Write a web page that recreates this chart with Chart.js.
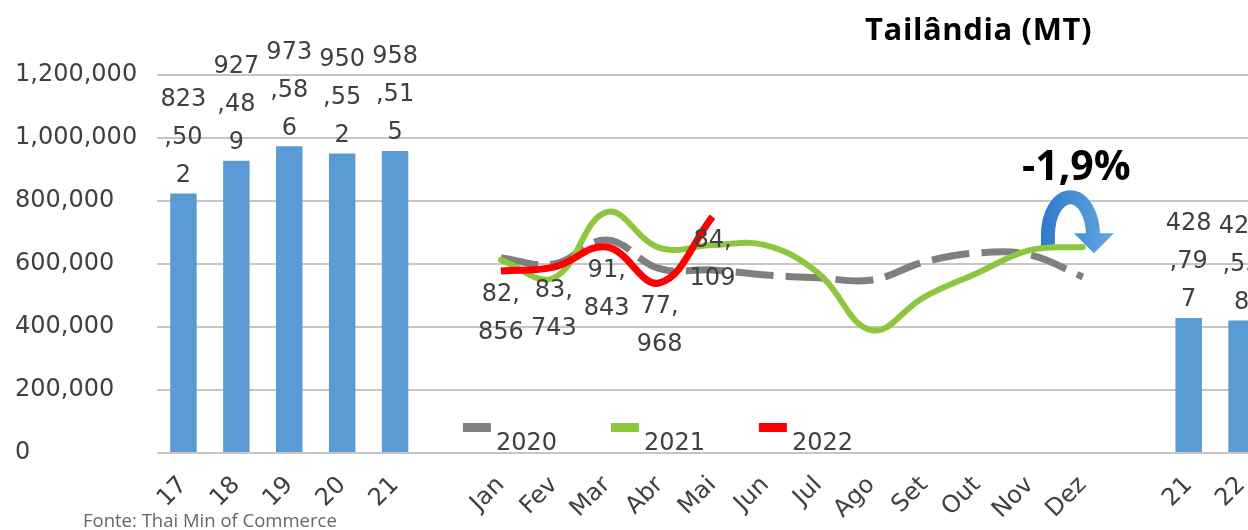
<!DOCTYPE html>
<html>
<head>
<meta charset="utf-8">
<script src="https://cdn.jsdelivr.net/npm/chart.js@4"></script>
<style>
  html, body { margin: 0; padding: 0; background: #fff; overflow: hidden; }
  #wrap { position: relative; width: 1248px; height: 530px; overflow: hidden; }
  #box { position: absolute; left: 0; top: 0; width: 1280px; height: 530px; }
  .txt { position: absolute; line-height: 1; white-space: nowrap; font-family: "Open Sans", sans-serif; }
  #title { left: 865px; top: 13px; font-size: 31px; font-weight: bold; letter-spacing: 0.6px; color: #000; }
  #pct { left: 1022px; top: 144px; font-size: 41px; font-weight: bold; color: #000; }
  #fonte { left: 83px; top: 511px; font-size: 18.5px; color: #666; }
</style>
</head>
<body>
<div id="wrap">
  <div id="box"><canvas id="chart" width="1280" height="530"></canvas></div>
  <div class="txt" id="title">Tailândia (MT)</div>
  <div class="txt" id="pct">-1,9%</div>
  <div class="txt" id="fonte">Fonte: Thai Min of Commerce</div>
</div>
<script>
// annual totals
const yearLabels = ['17', '18', '19', '20', '21'];
const yearTotals = [823502, 927489, 973586, 950552, 958515];
// jan-may totals
const ytdLabels = ['21', '22'];
const ytdTotals = [428797, 420558];
// monthly lines
const months = ['Jan', 'Fev', 'Mar', 'Abr', 'Mai', 'Jun', 'Jul', 'Ago', 'Set', 'Out', 'Nov', 'Dez'];
const m2020 = [619000, 600000, 676000, 585000, 581000, 565000, 556000, 549000, 606000, 635000, 629000, 559000];
const m2021 = [613000, 556000, 765000, 651000, 660000, 660000, 571000, 390000, 495000, 571000, 644000, 654000];
const m2022 = [578000, 590000, 654000, 540000, 750000];
const labels2022 = [82856, 83743, 91843, 77968, 84109];
const yTicks = [0, 200000, 400000, 600000, 800000, 1000000, 1200000];

const FONT = 'DejaVu Sans';
const TXT = '#404040';

const categories = [...yearLabels, '', ...months, '', ...ytdLabels];
const lead = yearLabels.length + 1;
const tail = 1 + ytdLabels.length;
const pad = (arr) => [
  ...Array(lead).fill(null), ...arr,
  ...Array(months.length - arr.length + tail).fill(null)
];
const barData = [...yearTotals, ...Array(months.length + 2).fill(null), ...ytdTotals];

// wrapped value labels like the excel ones
const valueLabels = {
  id: 'valueLabels',
  afterDatasetsDraw(chart) {
    const ctx = chart.ctx;
    ctx.save();
    ctx.font = '24px "' + FONT + '"';
    ctx.fillStyle = TXT;
    ctx.textAlign = 'center';
    ctx.textBaseline = 'middle';

    const bars = chart.getDatasetMeta(0);
    chart.data.datasets[0].data.forEach((v, i) => {
      if (v == null) return;
      const el = bars.data[i];
      const parts = v.toLocaleString('en-US').match(/.{1,3}/g);
      parts.forEach((t, k) => {
        ctx.fillText(t, el.x, el.y - 18 - (parts.length - 1 - k) * 38);
      });
    });

    const red = chart.getDatasetMeta(3);
    labels2022.forEach((v, i) => {
      const el = red.data[lead + i];
      const [a, b] = v.toLocaleString('en-US').split(',');
      ctx.fillText(a + ',', el.x, el.y + 24);
      ctx.fillText(b, el.x, el.y + 62);
    });

    // legend inside the plot
    const base = chart.scales.y.getPixelForValue(0);
    let x = chart.scales.x.getPixelForValue(lead) - 38;
    ctx.textAlign = 'left';
    ctx.textBaseline = 'alphabetic';
    [1, 2, 3].forEach(i => {
      const ds = chart.data.datasets[i];
      ctx.fillStyle = ds.borderColor;
      ctx.fillRect(x, base - 30, 28, 9);
      ctx.fillStyle = TXT;
      ctx.fillText(ds.label, x + 33, base - 3);
      x += 148;
    });
    ctx.restore();
  }
};

// curved arrow next to the 2021 Nov point
const arrow = {
  id: 'arrow',
  beforeDatasetsDraw(chart) {
    const p = chart.getDatasetMeta(2).data[lead + 10];
    if (!p) return;
    const ctx = chart.ctx;
    const lx = p.x + 18, by = p.y - 2;
    const cx = lx + 22.5, cy = by - 13;
    const rx = cx + 22.5;
    const g = ctx.createLinearGradient(lx - 8, 0, rx + 20, 0);
    g.addColorStop(0, '#2f78c8');
    g.addColorStop(1, '#62a8e2');
    ctx.save();
    ctx.strokeStyle = g;
    ctx.lineWidth = 14;
    ctx.beginPath();
    ctx.moveTo(lx, by);
    ctx.lineTo(lx, cy);
    ctx.ellipse(cx, cy, 22.5, 38, 0, Math.PI, 2 * Math.PI);
    ctx.stroke();
    ctx.fillStyle = g;
    ctx.beginPath();
    ctx.moveTo(rx - 19, cy - 2);
    ctx.lineTo(rx + 21, cy - 2);
    ctx.lineTo(rx + 1, cy + 18);
    ctx.closePath();
    ctx.fill();
    ctx.restore();
  }
};

new Chart(document.getElementById('chart').getContext('2d'), {
  type: 'bar',
  data: {
    labels: categories,
    datasets: [
      {
        type: 'bar',
        label: 'Total',
        data: barData,
        backgroundColor: '#5b9bd5',
        barPercentage: 0.5,
        categoryPercentage: 1,
        order: 10
      },
      {
        type: 'line',
        label: '2020',
        data: pad(m2020),
        borderColor: '#7f7f7f',
        borderWidth: 7,
        borderDash: [38, 12],
        borderCapStyle: 'butt',
        pointRadius: 0,
        tension: 0.4,
        order: 3
      },
      {
        type: 'line',
        label: '2021',
        data: pad(m2021),
        borderColor: '#8dc63f',
        borderWidth: 6,
        borderCapStyle: 'round',
        pointRadius: 0,
        tension: 0.4,
        order: 2
      },
      {
        type: 'line',
        label: '2022',
        data: pad(m2022),
        borderColor: '#ff0000',
        borderWidth: 7,
        pointRadius: 0,
        tension: 0.4,
        order: 1
      }
    ]
  },
  options: {
    responsive: false,
    animation: false,
    layout: { padding: { left: 15, top: 75, right: 3, bottom: 0 } },
    plugins: {
      legend: { display: false },
      tooltip: { enabled: false }
    },
    scales: {
      x: {
        grid: { display: false, drawTicks: false },
        border: { display: false },
        afterFit: s => { s.height = 77; },
        ticks: {
          autoSkip: false,
          minRotation: 45,
          maxRotation: 45,
          padding: 18,
          color: TXT,
          font: { family: FONT, size: 24 }
        }
      },
      y: {
        min: 0,
        max: 1200000,
        afterBuildTicks: s => { s.ticks = yTicks.map(v => ({ value: v })); },
        afterFit: s => { s.width = 142; },
        grid: { color: '#c6c6c6', lineWidth: 2, drawTicks: false },
        border: { display: false },
        ticks: {
          crossAlign: 'far',
          color: TXT,
          font: { family: FONT, size: 24 },
          callback: v => v.toLocaleString('en-US')
        }
      }
    }
  },
  plugins: [valueLabels, arrow]
});
</script>
</body>
</html>
